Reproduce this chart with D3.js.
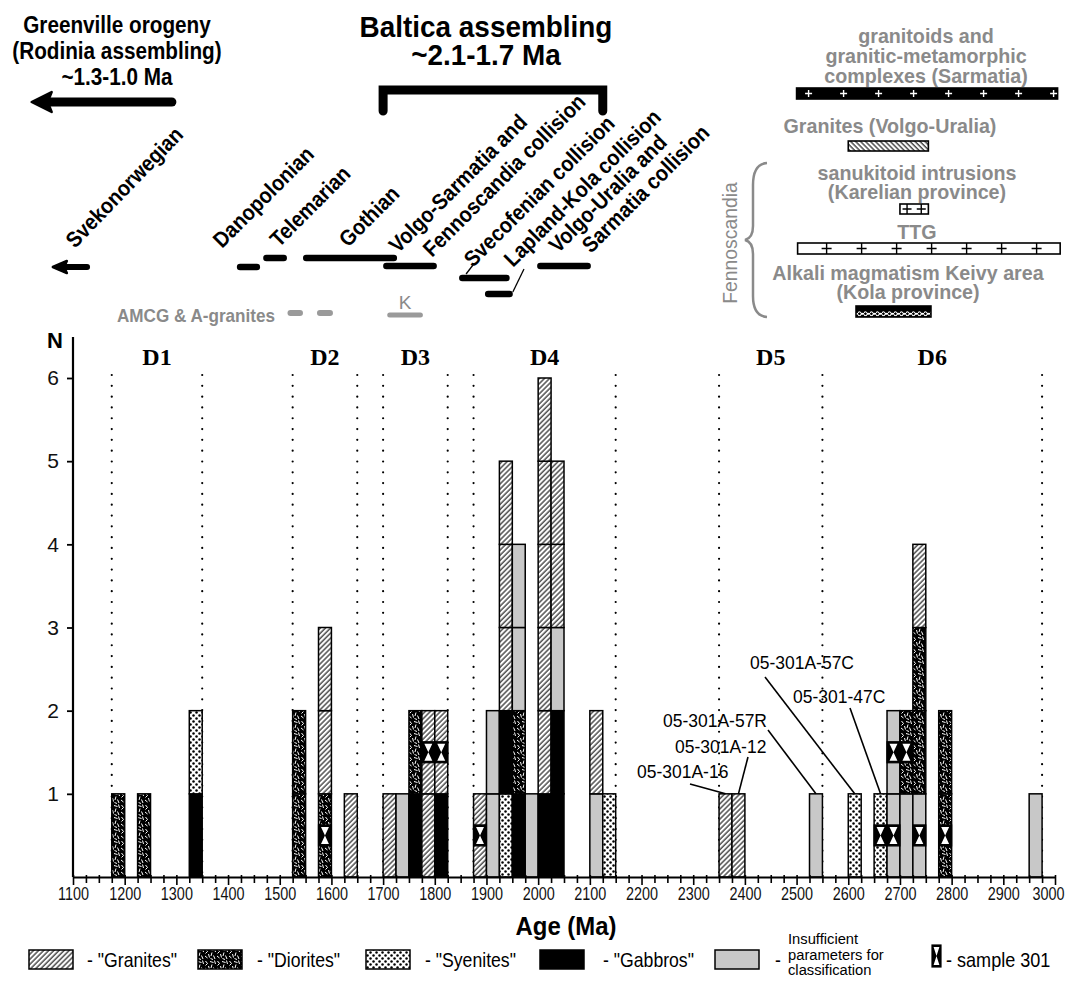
<!DOCTYPE html>
<html lang="en">
<head>
<meta charset="utf-8">
<title>U-Pb ages histogram</title>
<script src="https://cdn.jsdelivr.net/npm/d3@7/dist/d3.min.js"></script>
<style>
  body { margin: 0; background: #fff; }
  svg text { font-family: "Liberation Sans", Arial, sans-serif; }
</style>
</head>
<body>
<div id="chart"></div>
<script>
"use strict";
// ---------- data ----------
var binWidth = 25;
// start age of every 25 Ma bin that has samples
var binStart = [1175, 1225, 1325, 1525, 1575, 1625, 1700, 1725, 1750, 1775, 1800, 1875, 1900, 1925,
                1950, 1975, 2000, 2025, 2100, 2125, 2350, 2375, 2525, 2600, 2650, 2675, 2700, 2725, 2775, 2950];
// stack of samples per bin, bottom to top (G granite, D diorite, S syenite, B gabbro, I insufficient)
var binStack = ["D", "D", "BS", "DD", "DGG", "G", "G", "I", "BD", "GG", "BG", "G", "II", "SBGGG",
                "BDII", "I", "BGGGGG", "BBIGG", "IG", "S", "G", "G", "I", "S", "S", "II", "ID", "IDDG", "DD", "I"];
// sample 301 grains: [bin start, level in stack]
var sample301 = [[1575, 0], [1775, 1], [1800, 1], [1875, 0], [2650, 0], [2675, 0], [2675, 1], [2700, 1], [2725, 0], [2775, 0]];

var rockCodes = ["G", "D", "S", "B", "I"];
var rockLabels = ['- "Granites"', '- "Diorites"', '- "Syenites"', '- "Gabbros"', "-"];
var insufficientLines = ["Insufficient", "parameters for", "classification"];

var domainNames = ["D1", "D2", "D3", "D4", "D5", "D6"];
var domainFrom = [1175, 1525, 1700, 1875, 2350, 2550];
var domainTo = [1350, 1650, 1825, 2150, 2550, 2975];

var xTicks = d3.range(1100, 3001, 25);
var yTicks = [1, 2, 3, 4, 5, 6];

// orogenic events above the plot
var eventLabels = [["Danopolonian"], ["Telemarian"], ["Gothian"], ["Volgo-Sarmatia and", "Fennoscandia collision"],
                   ["Svecofenian collision"], ["Lapland-Kola collision"], ["Volgo-Uralia and", "Sarmatia collision"]];
var eventFrom = [1417, 1468, 1545, 1700, 1847, 1897, 1998];
var eventTo = [1462, 1514, 1727, 1804, 1945, 1951, 2102];
var greenvilleAge = [1020, 1300];
var svekoAge = [1061, 1133];
var balticaAge = [1700, 2125];
var amcgAge = [[1515, 1545], [1572, 1603]];
var kAge = [1708, 1777];

// magmatism of the cratons (right upper block)
var cratonLabels = [["granitoids and", "granitic-metamorphic", "complexes (Sarmatia)"], ["Granites (Volgo-Uralia)"],
                    ["sanukitoid intrusions", "(Karelian province)"], ["TTG"], ["Alkali magmatism Keivy area", "(Kola province)"]];
var cratonFrom = [2500, 2600, 2700, 2502, 2615];
var cratonTo = [3005, 2755, 2755, 3010, 2760];

var sampleNames = ["05-301A-16", "05-301A-12", "05-301A-57R", "05-301A-57C", "05-301-47C"];
var sampleBins = [2350, 2375, 2525, 2600, 2650];

// ---------- layout ----------
var W = 1070, H = 981;
var gray = "#8a8a8a";
var eventRowY = [267, 258, 258, 266, 278, 294, 266];
var eventTextPos = [[[222, 249]], [[279, 248]], [[348, 248]], [[398, 254], [432, 258]],
                    [[473, 268]], [[513, 268]], [[558, 254], [591, 254]]];
var cratonBarY = [88, 141, 204, 243, 306];
var cratonTextY = [[43, 63, 83], [133], [180, 199], [239], [280, 299]];
var cratonTextX = [926, 890, 917, 917, 908];
var sampleTextPos = [[637, 778], [675, 753], [663, 727], [750, 669], [793, 703]];
var sampleLeadFrom = [[690, 784], [748, 757], [768, 730], [765, 677], [850, 708]];
var legendX = [29, 198, 366, 540, 715];
var legendTextX = [87, 257, 425, 603, 775];

var svg = d3.select("#chart").append("svg").attr("width", W).attr("height", H);

var x = d3.scaleLinear().domain([1100, 3000]).range([73, 1055]);
var y = d3.scaleLinear().domain([0, 6]).range([877, 378]);

function condense(sel, k) {
  sel.each(function() {
    var L = this.getComputedTextLength();
    d3.select(this).attr("textLength", L * k).attr("lengthAdjust", "spacingAndGlyphs");
  });
  return sel;
}

// ---------- patterns ----------
var defs = svg.append("defs");
var pg = defs.append("pattern").attr("id", "pat-G").attr("patternUnits", "userSpaceOnUse")
  .attr("width", 3.6).attr("height", 3.6).attr("patternTransform", "rotate(45)");
pg.append("rect").attr("width", 3.6).attr("height", 3.6).attr("fill", "#fff");
pg.append("line").attr("x1", 1).attr("y1", 0).attr("x2", 1).attr("y2", 3.6).attr("stroke", "#222").attr("stroke-width", 1.2);

var pb = defs.append("pattern").attr("id", "pat-back").attr("patternUnits", "userSpaceOnUse")
  .attr("width", 3.5).attr("height", 3.5).attr("patternTransform", "rotate(-45)");
pb.append("rect").attr("width", 3.5).attr("height", 3.5).attr("fill", "#fff");
pb.append("line").attr("x1", 1).attr("y1", 0).attr("x2", 1).attr("y2", 3.5).attr("stroke", "#222").attr("stroke-width", 1.2);

var pd = defs.append("pattern").attr("id", "pat-D").attr("patternUnits", "userSpaceOnUse")
  .attr("width", 12).attr("height", 12);
pd.append("rect").attr("width", 12).attr("height", 12).attr("fill", "#000");
pd.selectAll("path").data(["M1.5,1 L3.5,3.5 L1.5,5.5", "M6,1.5 L9.5,2.5", "M8,4.5 L7,8", "M1,8 L3.5,10", "M4.5,6 L5.5,9.5",
                          "M9.5,7.5 L11,11", "M10.5,0.5 L11.5,4", "M6.5,10.5 L9,11.5"])
  .enter().append("path").attr("d", d => d).attr("fill", "none").attr("stroke", "#fff").attr("stroke-width", 1);

var ps = defs.append("pattern").attr("id", "pat-S").attr("patternUnits", "userSpaceOnUse")
  .attr("width", 6).attr("height", 6);
ps.append("rect").attr("width", 6).attr("height", 6).attr("fill", "#fff");
ps.append("circle").attr("cx", 1.5).attr("cy", 1.5).attr("r", 1.25).attr("fill", "#000");
ps.append("circle").attr("cx", 4.5).attr("cy", 4.5).attr("r", 1.25).attr("fill", "#000");

var pk = defs.append("pattern").attr("id", "pat-K").attr("patternUnits", "userSpaceOnUse")
  .attr("width", 6).attr("height", 11);
pk.append("rect").attr("width", 6).attr("height", 11).attr("fill", "#000");
pk.append("path").attr("d", "M0,5 Q1.5,2.5 3,5 T6,5 M0,6.5 Q1.5,9 3,6.5 T6,6.5")
  .attr("fill", "none").attr("stroke", "#fff").attr("stroke-width", 1.1);

var fillFor = { G: "url(#pat-G)", D: "url(#pat-D)", S: "url(#pat-S)", B: "#000", I: "#c8c8c8" };

// ---------- domain boundaries (dotted) ----------
var bounds = Array.from(new Set(domainFrom.concat(domainTo)));
svg.append("g").selectAll("line").data(bounds).enter().append("line")
  .attr("x1", d => x(d)).attr("x2", d => x(d)).attr("y1", 375).attr("y2", y(0))
  .attr("stroke", "#000").attr("stroke-width", 2.2).attr("stroke-linecap", "round")
  .attr("stroke-dasharray", "0.01 10.8");

svg.append("g").selectAll("text").data(domainNames).enter().append("text")
  .attr("x", (d, i) => x((domainFrom[i] + domainTo[i]) / 2)).attr("y", 365)
  .attr("text-anchor", "middle").style("font-family", '"Liberation Serif", "Times New Roman", serif')
  .attr("font-weight", "bold").attr("font-size", 24).text(d => d);

// ---------- stacked bars ----------
var segs = [];
binStart.forEach(function(s, i) {
  binStack[i].split("").forEach(function(code, j) { segs.push({ start: s, level: j, code: code }); });
});
var gBars = svg.append("g");
gBars.selectAll("rect").data(segs).enter().append("rect")
  .attr("x", d => x(d.start)).attr("width", d => x(d.start + binWidth) - x(d.start))
  .attr("y", d => y(d.level + 1)).attr("height", d => y(d.level) - y(d.level + 1))
  .attr("fill", d => fillFor[d.code]).attr("stroke", "#000").attr("stroke-width", 1.5);

function hourglass(g, x0, x1, yc, h, inset) {
  var yt = yc - h / 2, yb = yc + h / 2, xm = (x0 + x1) / 2;
  g.append("rect").attr("x", x0).attr("y", yt).attr("width", x1 - x0).attr("height", h)
    .attr("fill", "#000").attr("stroke", "#000").attr("stroke-width", 1.2);
  g.append("path")
    .attr("d", "M" + (x0 + inset) + "," + (yt + 2) + "L" + (x1 - inset) + "," + (yt + 2) + "L" + xm + "," + yc + "Z" +
               "M" + xm + "," + yc + "L" + (x1 - inset) + "," + (yb - 2) + "L" + (x0 + inset) + "," + (yb - 2) + "Z")
    .attr("fill", "#fff");
}
var gMark = svg.append("g");
sample301.forEach(function(s) {
  hourglass(gMark, x(s[0]), x(s[0] + binWidth), y(s[1] + 0.5), 21, 2.5);
});

// ---------- axes ----------
var xAxis = d3.axisBottom(x).tickValues(xTicks).tickSize(5).tickSizeOuter(0)
  .tickFormat(d => d % 100 === 0 ? d : "");
var gx = svg.append("g").attr("transform", "translate(0," + y(0) + ")").call(xAxis);
gx.select(".domain").attr("stroke-width", 2.2);
gx.selectAll(".tick line").attr("y1", -2).attr("y2", d => d % 100 === 0 ? 8 : 6).attr("stroke-width", 1.6);
gx.selectAll(".tick text").attr("y", 10).attr("font-size", 18).attr("fill", "#111")
  .attr("dx", d => d === 3000 ? -7 : 0)
  .style("font-family", '"Liberation Sans", Arial, sans-serif');
condense(gx.selectAll(".tick text").filter(d => d % 100 === 0), 0.8);

var yAxis = d3.axisLeft(y).tickValues(yTicks).tickSize(6).tickSizeOuter(0).tickFormat(d3.format("d"));
var gy = svg.append("g").attr("transform", "translate(" + x(1100) + ",0)").call(yAxis);
gy.select(".domain").remove();
gy.selectAll(".tick line").attr("stroke-width", 1.8);
gy.selectAll(".tick text").attr("x", -14).attr("font-size", 21).attr("fill", "#111")
  .style("font-family", '"Liberation Sans", Arial, sans-serif');
svg.append("line").attr("x1", x(1100)).attr("x2", x(1100)).attr("y1", y(0)).attr("y2", 337)
  .attr("stroke", "#000").attr("stroke-width", 2.2);
svg.append("text").attr("x", 55).attr("y", 348).attr("text-anchor", "middle")
  .attr("font-weight", "bold").attr("font-size", 22).text("N");
condense(svg.append("text").attr("x", 566).attr("y", 935).attr("text-anchor", "middle")
  .attr("font-weight", "bold").attr("font-size", 26).text("Age (Ma)"), 0.92);

// ---------- sample labels ----------
var gLab = svg.append("g");
sampleNames.forEach(function(n, i) {
  gLab.append("line").attr("x1", sampleLeadFrom[i][0]).attr("y1", sampleLeadFrom[i][1])
    .attr("x2", x(sampleBins[i] + binWidth / 2)).attr("y2", y(1))
    .attr("stroke", "#000").attr("stroke-width", 1.6);
  condense(gLab.append("text").attr("x", sampleTextPos[i][0]).attr("y", sampleTextPos[i][1])
    .attr("font-size", 19).text(n), 0.92);
});

// ---------- legend ----------
var gLeg = svg.append("g");
rockCodes.forEach(function(c, i) {
  gLeg.append("rect").attr("x", legendX[i]).attr("y", 950).attr("width", 44).attr("height", 19)
    .attr("fill", fillFor[c]).attr("stroke", "#000").attr("stroke-width", 1.5);
  condense(gLeg.append("text").attr("x", legendTextX[i]).attr("y", 967).attr("font-size", 21).text(rockLabels[i]), 0.84);
});
insufficientLines.forEach(function(l, i) {
  condense(gLeg.append("text").attr("x", 788).attr("y", 944 + i * 15.5).attr("font-size", 15.5).text(l), 0.95);
});
hourglass(gLeg, 932, 941, 956, 22, 1.6);
condense(gLeg.append("text").attr("x", 946).attr("y", 967).attr("font-size", 21).text("- sample 301"), 0.86);

// ---------- upper annotations ----------
var gTop = svg.append("g");
function seg(g, a0, a1, yy, w, col) {
  g.append("line").attr("x1", x(a0) + w / 2).attr("x2", x(a1) - w / 2).attr("y1", yy).attr("y2", yy)
    .attr("stroke", col).attr("stroke-width", w).attr("stroke-linecap", "round");
}
function arrowLeft(g, a0, a1, yy, w, hw, hh) {
  var tip = x(a0);
  g.append("line").attr("x1", tip + hw * 0.6).attr("x2", x(a1) - w / 2).attr("y1", yy).attr("y2", yy)
    .attr("stroke", "#000").attr("stroke-width", w).attr("stroke-linecap", "round");
  g.append("path").attr("d", "M" + tip + "," + yy + "L" + (tip + hw) + "," + (yy - hh) + "L" + (tip + hw * 0.8) + "," + yy +
                    "L" + (tip + hw) + "," + (yy + hh) + "Z")
    .attr("fill", "#000").attr("stroke", "#000").attr("stroke-width", 2.5).attr("stroke-linejoin", "round");
}
function boldText(g, tx, ty, size, k, s, col, anchor) {
  var t = g.append("text").attr("x", tx).attr("y", ty).attr("text-anchor", anchor || "middle")
    .attr("font-weight", "bold").attr("font-size", size).attr("fill", col || "#000").text(s);
  return condense(t, k);
}

// Greenville
["Greenville orogeny", "(Rodinia assembling)", "~1.3-1.0 Ma"].forEach(function(l, i) {
  boldText(gTop, 117, 33 + i * 26, 23, 0.9, l);
});
arrowLeft(gTop, greenvilleAge[0], greenvilleAge[1], 102, 9, 20, 10);

// Baltica
["Baltica assembling", "~2.1-1.7 Ma"].forEach(function(l, i) {
  boldText(gTop, 486, 37 + i * 28, 30, 0.93, l);
});
gTop.append("path")
  .attr("d", "M" + x(balticaAge[0]) + ",111 L" + x(balticaAge[0]) + ",90 L" + x(balticaAge[1]) + ",90 L" + x(balticaAge[1]) + ",111")
  .attr("fill", "none").attr("stroke", "#000").attr("stroke-width", 9).attr("stroke-linecap", "round");

// Svekonorwegian
arrowLeft(gTop, svekoAge[0], svekoAge[1], 267, 6, 14, 6);
condense(gTop.append("text").attr("transform", "translate(75,249) rotate(-46)")
  .attr("font-weight", "bold").attr("font-size", 22).text("Svekonorwegian"), 0.9);

// events
eventLabels.forEach(function(lines, i) {
  seg(gTop, eventFrom[i], eventTo[i], eventRowY[i], 6.5, "#000");
  lines.forEach(function(l, j) {
    var p = eventTextPos[i][j];
    condense(gTop.append("text").attr("transform", "translate(" + p[0] + "," + p[1] + ") rotate(-45)")
      .attr("font-weight", "bold").attr("font-size", 22).text(l), 0.9);
  });
});
// leaders for Svecofenian and Lapland-Kola
gTop.append("line").attr("x1", x(eventFrom[4]) + 7).attr("y1", eventRowY[4] - 4).attr("x2", 473).attr("y2", 265)
  .attr("stroke", "#000").attr("stroke-width", 1.3);
gTop.append("line").attr("x1", x(eventTo[5])).attr("y1", eventRowY[5] - 2).attr("x2", 524).attr("y2", 269)
  .attr("stroke", "#000").attr("stroke-width", 1.3);

// AMCG & K
boldText(gTop, 275, 322, 19, 0.9, "AMCG & A-granites", gray, "end");
amcgAge.forEach(function(a) { seg(gTop, a[0], a[1], 313, 6, "#9a9a9a"); });
seg(gTop, kAge[0], kAge[1], 315, 5, "#9a9a9a");
gTop.append("text").attr("x", (x(kAge[0]) + x(kAge[1])) / 2).attr("y", 309).attr("text-anchor", "middle")
  .attr("font-size", 19).attr("fill", gray).text("K");

// cratons
cratonLabels.forEach(function(lines, i) {
  lines.forEach(function(l, j) {
    boldText(gTop, cratonTextX[i], cratonTextY[i][j], 20.5, 0.96, l, gray);
  });
});
var cb = cratonBarY;
var cFill = ["#000", "url(#pat-back)", "#fff", "#fff", "url(#pat-K)"];
var cH = [11, 10, 10, 11, 11];
cratonFrom.forEach(function(a, i) {
  gTop.append("rect").attr("x", x(a)).attr("y", cb[i]).attr("width", x(cratonTo[i]) - x(a)).attr("height", cH[i])
    .attr("fill", cFill[i]).attr("stroke", "#000").attr("stroke-width", 1.6);
});
function plus(g, cx, cy, hw, hh, col) {
  g.append("path").attr("d", "M" + (cx - hw) + "," + cy + "H" + (cx + hw) + "M" + cx + "," + (cy - hh) + "V" + (cy + hh))
    .attr("stroke", col).attr("stroke-width", 1.4);
}
d3.range(x(cratonFrom[0]) + 12, x(cratonTo[0]), 35).forEach(function(px) { plus(gTop, px, cb[0] + 5.5, 3.5, 3.5, "#fff"); });
d3.range(x(cratonFrom[3]) + 29, x(cratonTo[3]) - 10, 35).forEach(function(px) { plus(gTop, px, cb[3] + 5.5, 5, 5.5, "#000"); });
[0.25, 0.75].forEach(function(f) {
  plus(gTop, x(cratonFrom[2]) + f * (x(cratonTo[2]) - x(cratonFrom[2])), cb[2] + 5, 4.5, 5, "#000");
});

// Fennoscandia brace
gTop.append("path")
  .attr("d", "M767,163 Q753,164 753,185 L753,226 Q753,238 745,240 Q753,242 753,254 L753,296 Q753,316 767,317")
  .attr("fill", "none").attr("stroke", gray).attr("stroke-width", 2.5);
condense(gTop.append("text").attr("transform", "translate(737,243) rotate(-90)").attr("text-anchor", "middle")
  .attr("font-size", 21).attr("fill", gray).text("Fennoscandia"), 0.92);
</script>
</body>
</html>
